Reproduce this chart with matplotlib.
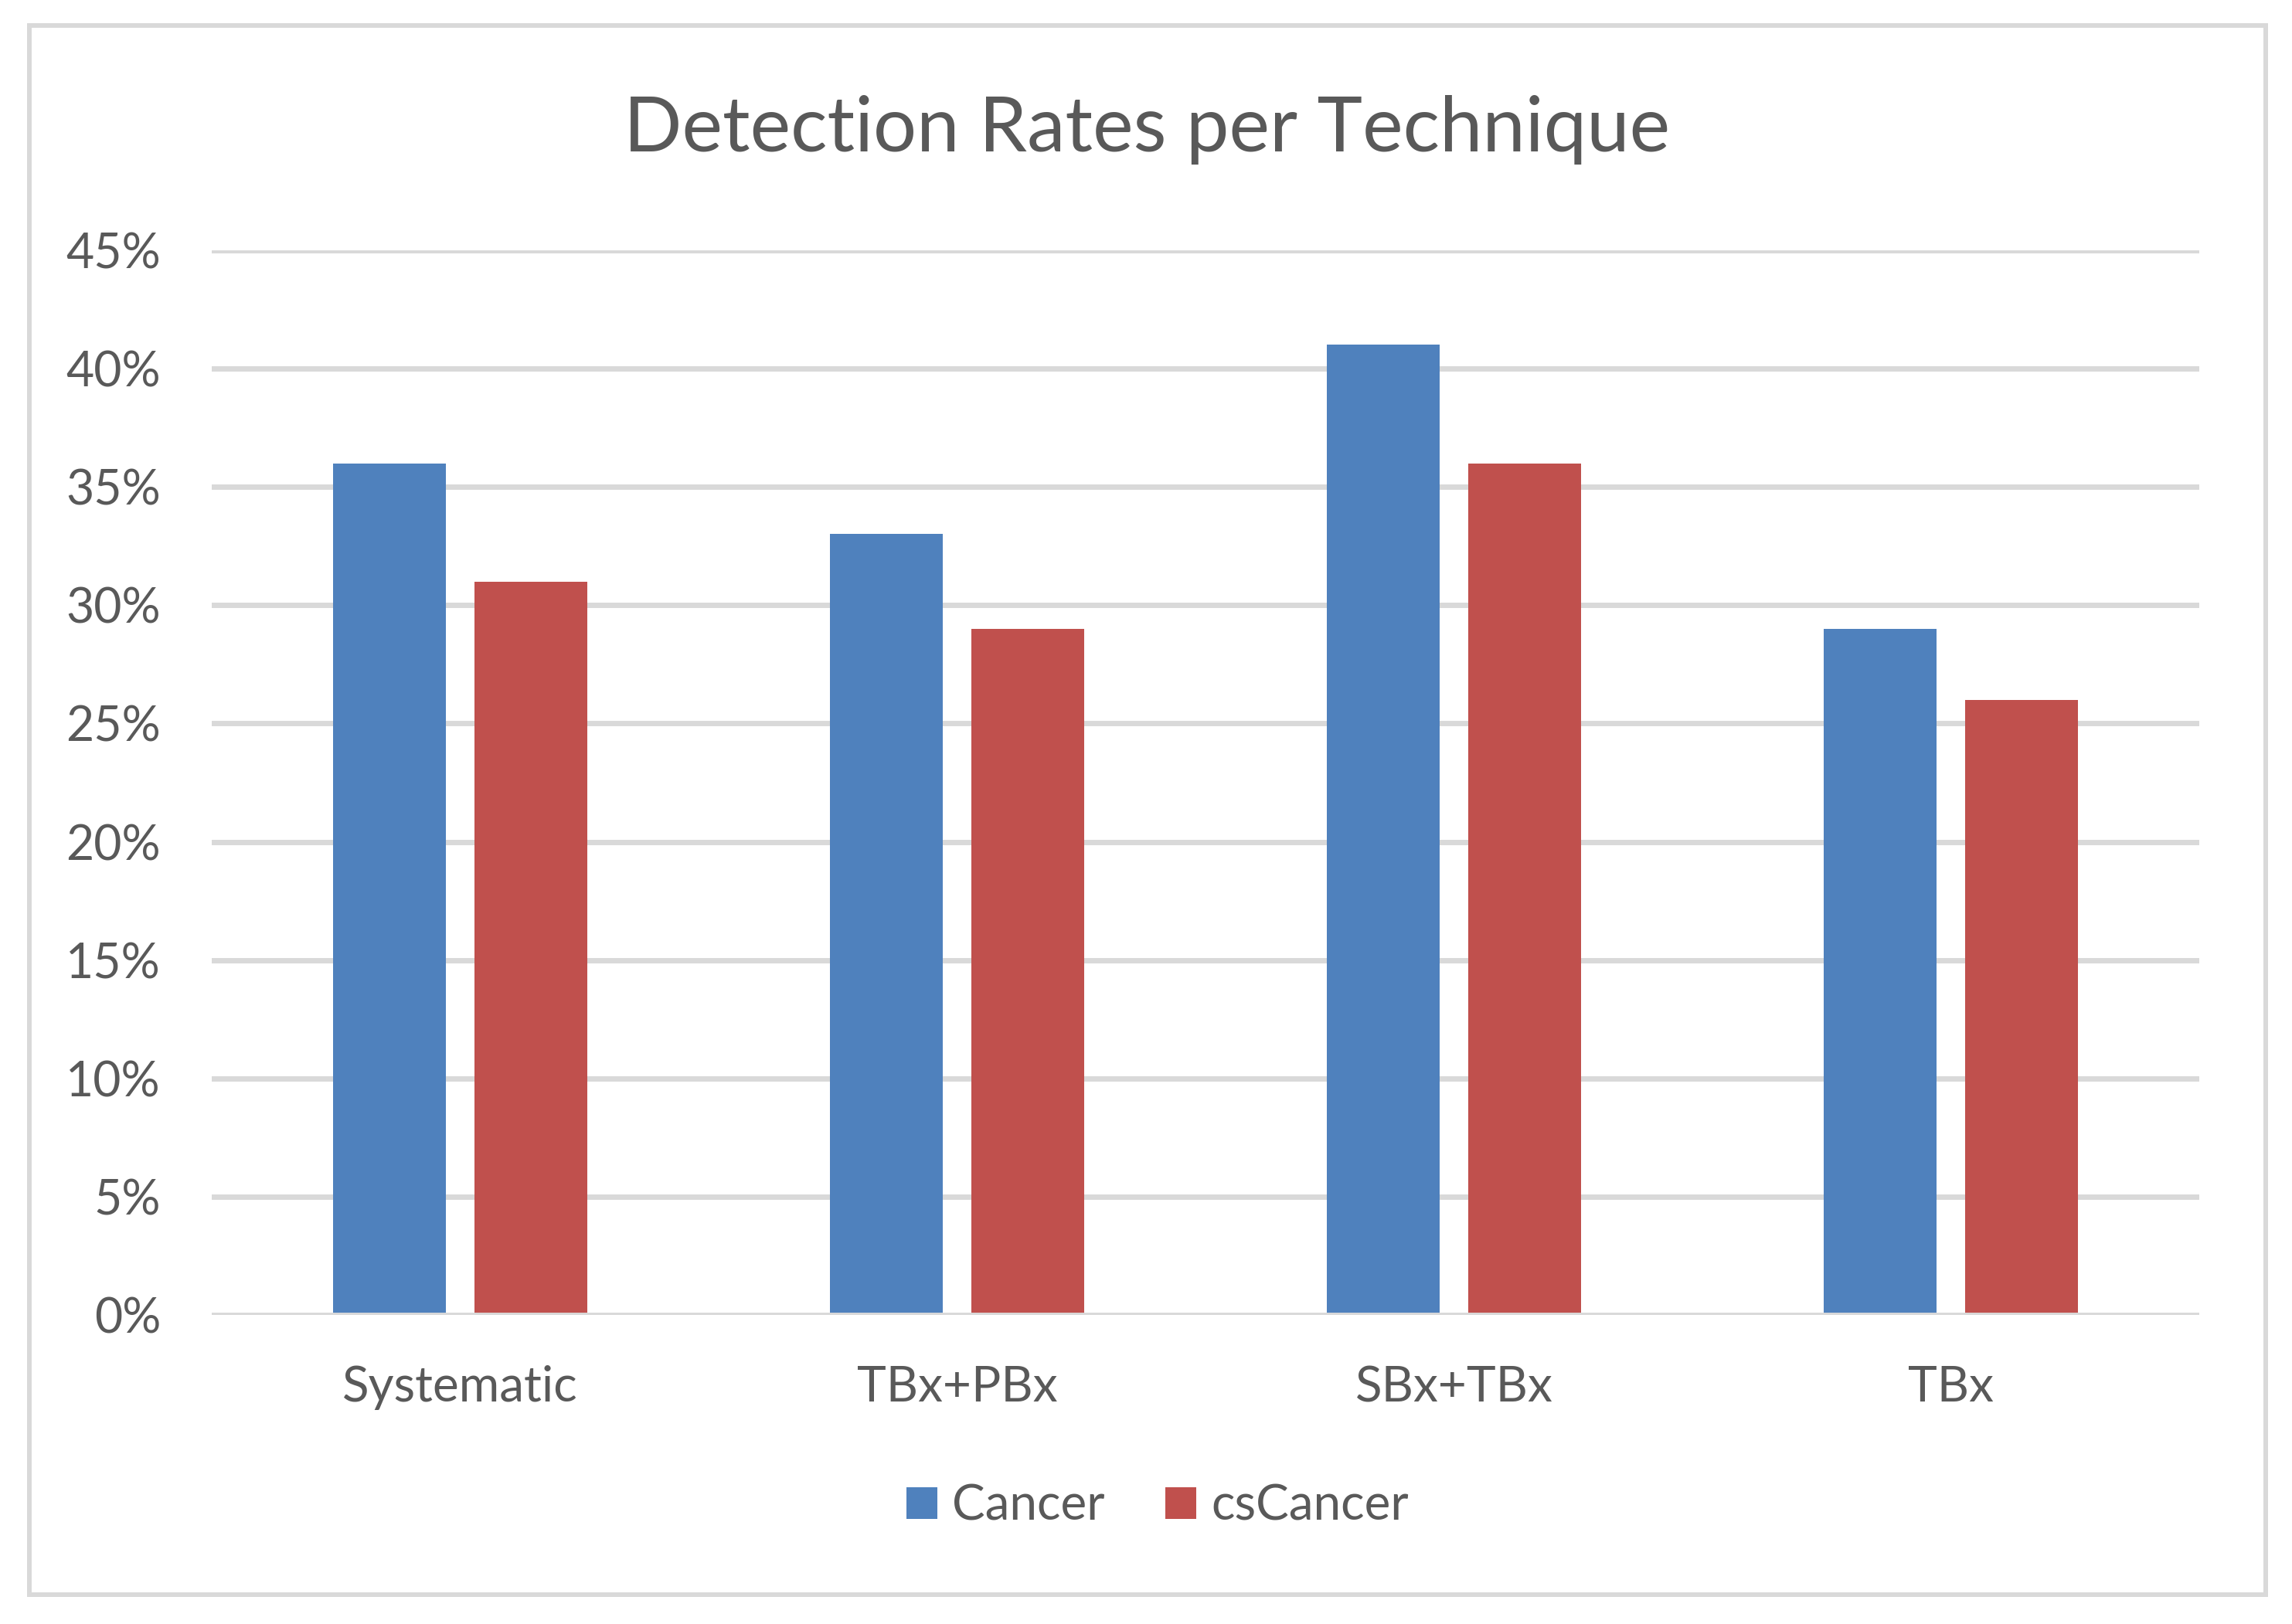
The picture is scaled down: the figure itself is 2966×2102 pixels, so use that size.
import matplotlib
matplotlib.use('Agg')

import matplotlib.pyplot as plt
import numpy as np
from matplotlib.patches import Rectangle
from matplotlib.ticker import FuncFormatter, MultipleLocator

# data
techniques = ['Systematic', 'TBx+PBx', 'SBx+TBx', 'TBx']
cancer = [0.36, 0.33, 0.41, 0.29]
cs_cancer = [0.31, 0.29, 0.36, 0.26]
series_names = ['Cancer', 'csCancer']

blue = '#4F81BD'
red = '#C0504D'
text_col = '#595959'
grid_col = '#D9D9D9'

plt.rcParams['font.family'] = ['Lato', 'DejaVu Sans']

W, H, dpi = 2966, 2102, 100
fig = plt.figure(figsize=(W / dpi, H / dpi), dpi=dpi)
fig.patch.set_facecolor('white')

# axes placement in pixels (left, right, y of 0%, y of 45%)
ax = fig.add_axes([274 / W, 1 - 1702 / H, (2846 - 274) / W, (1702 - 324) / H])

x = np.arange(len(techniques))
bw = 0.227
off = 0.142
ax.bar(x - off, cancer, bw, color=blue, label=series_names[0], zorder=3)
ax.bar(x + off, cs_cancer, bw, color=red, label=series_names[1], zorder=3)

ax.set_xlim(-0.5, len(techniques) - 0.5)
ax.set_ylim(0, 0.45)
ax.yaxis.set_major_locator(MultipleLocator(0.05))
ax.yaxis.set_major_formatter(FuncFormatter(lambda v, p: '%d%%' % round(v * 100)))
ax.grid(True, axis='y', color=grid_col, linewidth=5.0, zorder=0)
ax.set_axisbelow(True)
for s in ax.spines.values():
    s.set_visible(False)
ax.axhline(0, color=grid_col, linewidth=5.0, zorder=4)

ax.set_xticks(x)
ax.set_xticklabels(techniques)
ax.tick_params(axis='x', length=0, pad=47, labelsize=46, labelcolor=text_col)
ax.tick_params(axis='y', length=0, pad=47.5, labelsize=45, labelcolor=text_col)

fig.text(1484 / W, 1 - 196 / H, 'Detection Rates per Technique', ha='center',
         va='baseline', fontsize=71.5, color=text_col)

handles, labels = ax.get_legend_handles_labels()
leg = fig.legend(handles, labels, loc='center', bbox_to_anchor=(1498 / W, 1 - 1950 / H),
                 ncol=2, frameon=False, fontsize=46, handlelength=0.625, handleheight=0.625,
                 handletextpad=0.3, columnspacing=1.22)
for t in leg.get_texts():
    t.set_color(text_col)

# chart area border
fig.patches.append(Rectangle((38 / W, 1 - 2064 / H), (2932 - 38) / W, (2064 - 33) / H,
                             transform=fig.transFigure, fill=False, edgecolor=grid_col,
                             linewidth=4.3, zorder=0))

plt.savefig('out.png', dpi=dpi)
